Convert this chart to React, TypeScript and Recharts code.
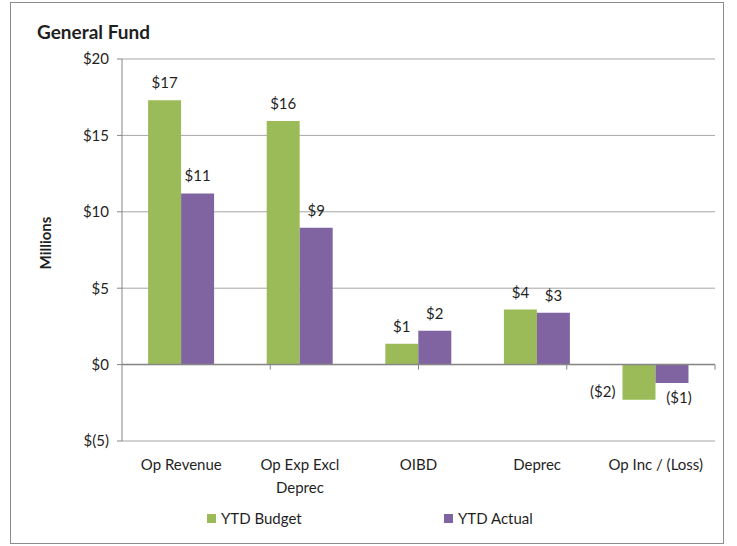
import { Bar, BarChart, CartesianGrid, LabelList, ReferenceLine, XAxis, YAxis } from "recharts";

const categories = ["Op Revenue", "Op Exp Excl Deprec", "OIBD", "Deprec", "Op Inc / (Loss)"];
const categoryLines = [["Op Revenue"], ["Op Exp Excl", "Deprec"], ["OIBD"], ["Deprec"], ["Op Inc / (Loss)"]];
const ytdBudget = [17.3, 15.95, 1.37, 3.6, -2.3];
const ytdActual = [11.2, 8.95, 2.22, 3.4, -1.2];
const yTicks = [-5, 0, 5, 10, 15, 20];
const boundaries = [1, 2, 3, 4, 5];

const series = [
  { key: "budget", name: "YTD Budget", color: "#9BBB59" },
  { key: "actual", name: "YTD Actual", color: "#8064A2" },
];

const data = categories.map((c, i) => ({
  category: c,
  budget: ytdBudget[i],
  actual: ytdActual[i],
}));

const FONT = "Lato, 'Open Sans', sans-serif";
const TEXT = "#1f1f1f";

const money = (v: number) => (v < 0 ? `($${Math.round(-v)})` : `$${Math.round(v)}`);
const axisMoney = (v: number) => (v < 0 ? `$(${-v})` : `$${v}`);

// Excel-style data labels: above positive bars, negatives pushed aside/below
function makeLabel(seriesKey: string) {
  return (props: any) => {
    const { x, y, width, height, value } = props;
    const top = Math.min(y, y + height);
    const bottom = Math.max(y, y + height);
    const cx = x + width / 2;
    if (value >= 0) {
      return (
        <text x={cx} y={top - 12} textAnchor="middle" fontSize={15} fill={TEXT} fontFamily={FONT}>
          {money(value)}
        </text>
      );
    }
    if (seriesKey === "budget") {
      return (
        <text x={x - 7} y={bottom - 3} textAnchor="end" fontSize={15} fill={TEXT} fontFamily={FONT}>
          {money(value)}
        </text>
      );
    }
    return (
      <text x={cx + 7} y={bottom + 20} textAnchor="middle" fontSize={15} fill={TEXT} fontFamily={FONT}>
        {money(value)}
      </text>
    );
  };
}

function CategoryTick(props: any) {
  const { x, y, payload } = props;
  const i = categories.indexOf(payload.value);
  const lines = categoryLines[i] ?? [payload.value];
  return (
    <text x={x} y={y} textAnchor="middle" fontSize={15} fill={TEXT} fontFamily={FONT}>
      {lines.map((l, k) => (
        <tspan key={k} x={x} dy={k === 0 ? 29 : 23}>
          {l}
        </tspan>
      ))}
    </text>
  );
}

export default function App() {
  return (
    <div style={{ position: "absolute", left: 0, top: 0, width: 737, height: 546, background: "#fff", fontFamily: FONT }}>
      <div
        style={{
          position: "absolute",
          left: 10,
          top: 2,
          width: 712,
          height: 540,
          border: "1px solid #8c8c8c",
        }}
      />
      <div style={{ position: "absolute", left: 37, top: 20, fontSize: 19, fontWeight: 700, color: TEXT }}>General Fund</div>
      <BarChart
        width={737}
        height={546}
        data={data}
        margin={{ top: 59, right: 22, left: 0, bottom: 0 }}
        barCategoryGap="22%"
        barGap={0}
        style={{ position: "absolute", left: 0, top: 0 }}
      >
        <CartesianGrid vertical={false} stroke="#a6a6a6" />
        <XAxis
          dataKey="category"
          height={105}
          axisLine={false}
          tickLine={false}
          tickSize={0}
          tickMargin={0}
          interval={0}
          tick={<CategoryTick />}
        />
        <XAxis xAxisId="num" type="number" domain={[0, 5]} hide />
        <YAxis
          width={122}
          domain={[-5, 20]}
          ticks={yTicks}
          tickFormatter={axisMoney}
          axisLine={{ stroke: "#868686" }}
          tickLine={{ stroke: "#868686" }}
          tickSize={5}
          tickMargin={8}
          tick={{ fill: TEXT, fontSize: 15, fontFamily: FONT }}
          label={{
            content: () => (
              <text
                x={51}
                y={243}
                transform="rotate(-90 51 243)"
                textAnchor="middle"
                fontSize={15}
                fontWeight={700}
                fill={TEXT}
                fontFamily={FONT}
              >
                Millions
              </text>
            ),
          }}
        />
        <ReferenceLine y={0} stroke="#868686" strokeWidth={1.5} />
        {boundaries.map((b) => (
          <ReferenceLine
            key={b}
            xAxisId="num"
            segment={[
              { x: b, y: 0 },
              { x: b, y: -0.33 },
            ]}
            stroke="#868686"
          />
        ))}
        {series.map((s) => (
          <Bar key={s.key} dataKey={s.key} name={s.name} fill={s.color} isAnimationActive={false}>
            <LabelList dataKey={s.key} content={makeLabel(s.key)} />
          </Bar>
        ))}
      </BarChart>
      {series.map((s, i) => (
        <div
          key={s.key}
          style={{
            position: "absolute",
            left: i === 0 ? 207 : 444,
            top: 509,
            display: "flex",
            alignItems: "center",
            fontSize: 15,
            color: TEXT,
          }}
        >
          <span style={{ display: "inline-block", width: 9, height: 9, background: s.color, marginRight: 5 }} />
          {s.name}
        </div>
      ))}
    </div>
  );
}
